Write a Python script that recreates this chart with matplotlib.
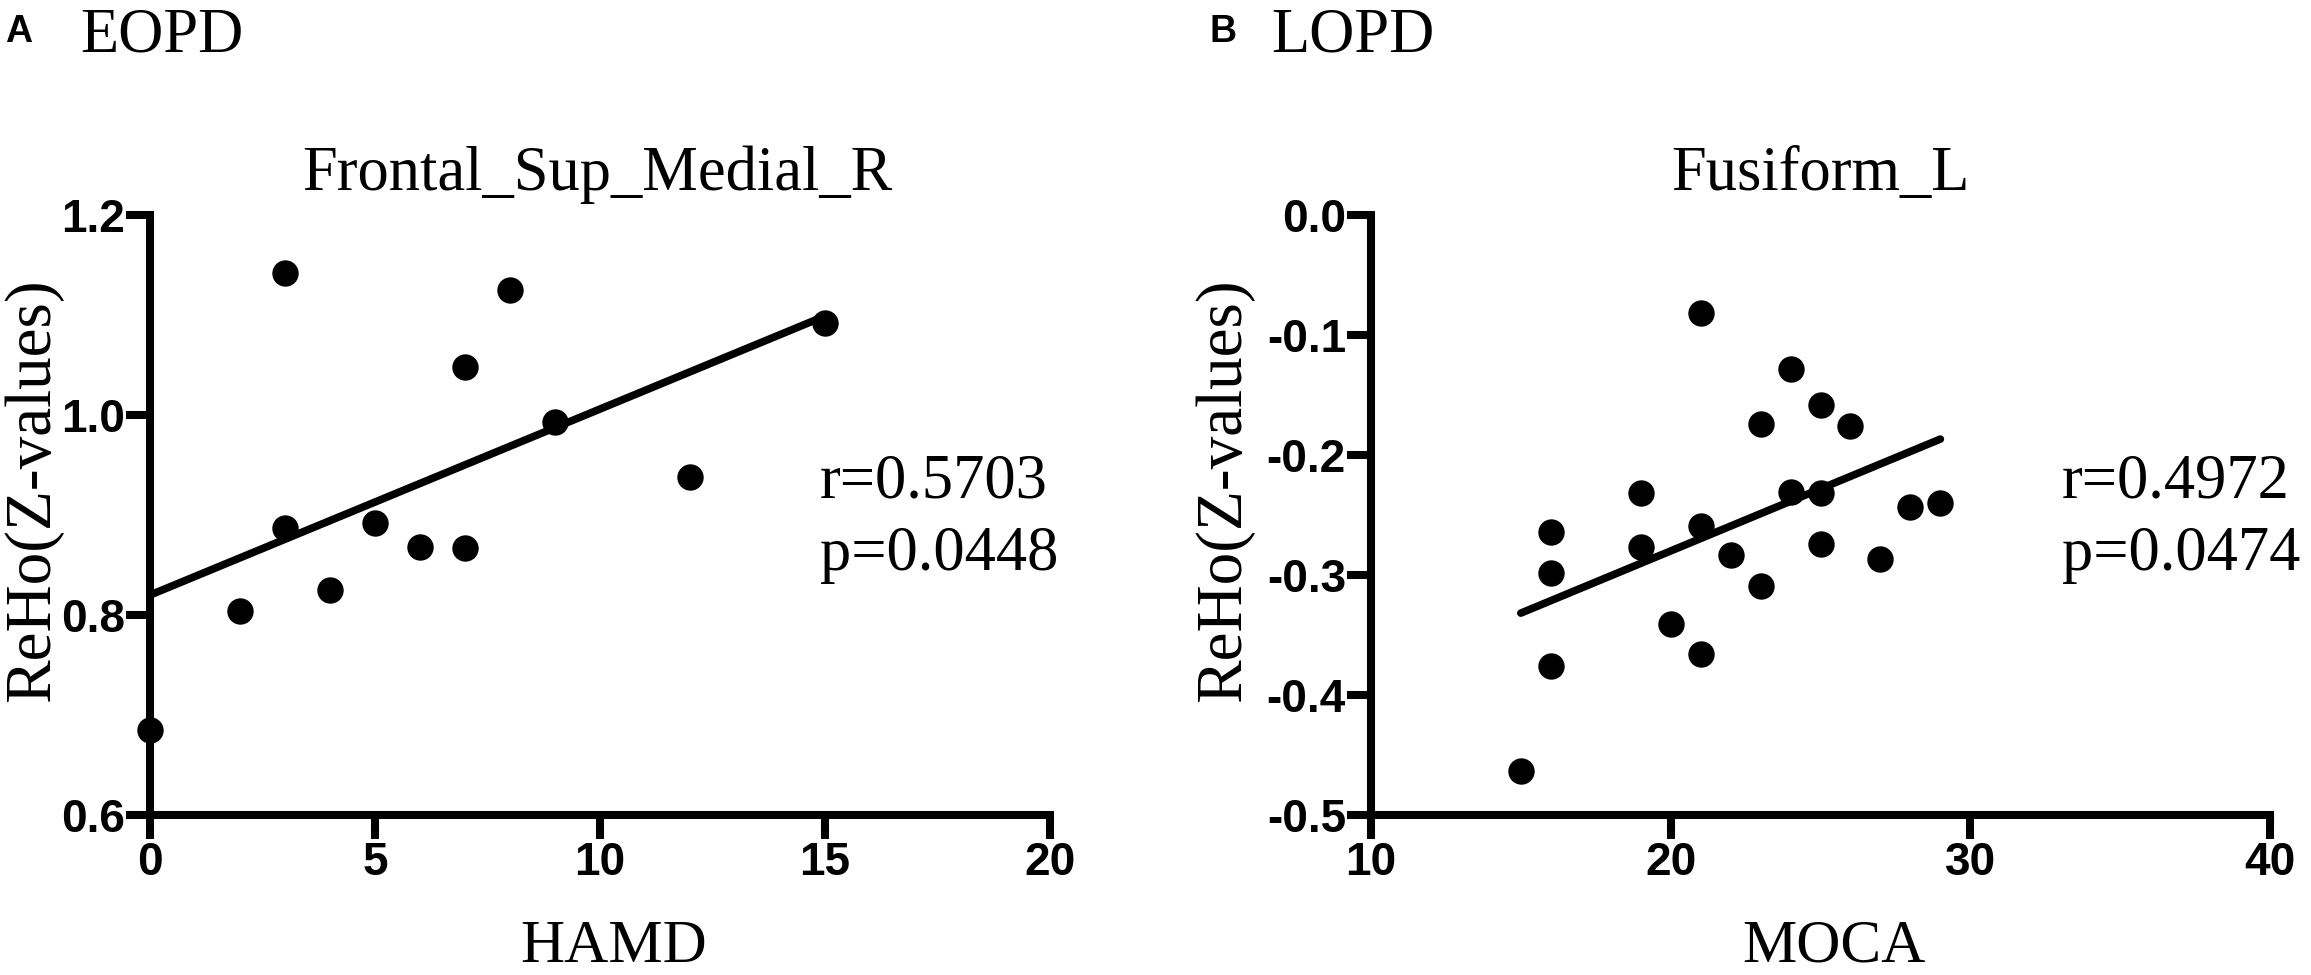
import numpy as np
import matplotlib
matplotlib.use("Agg")
import matplotlib.pyplot as plt

plt.rcParams['axes.unicode_minus'] = False

# ---- data ----
eopd_hamd = [0, 2, 3, 3, 4, 5, 6, 7, 7, 8, 9, 12, 15]
eopd_reho = [0.685, 0.804, 1.142, 0.887, 0.825, 0.892, 0.868, 0.867, 1.048, 1.125, 0.993, 0.938, 1.092]

lopd_moca = [15, 16, 16, 16, 19, 19, 20, 21, 21, 21, 22, 23, 23, 24, 24, 25, 25, 25, 26, 27, 28, 29]
lopd_reho = [-0.463, -0.264, -0.298, -0.376, -0.232, -0.277, -0.341, -0.082, -0.259, -0.366,
             -0.283, -0.174, -0.309, -0.128, -0.231, -0.158, -0.232, -0.274, -0.176, -0.287,
             -0.243, -0.240]

left_xticks = [0, 5, 10, 15, 20]
left_yticks = [0.6, 0.8, 1.0, 1.2]
right_xticks = [10, 20, 30, 40]
right_yticks = [-0.5, -0.4, -0.3, -0.2, -0.1, 0.0]

left_title = "Frontal_Sup_Medial_R"
right_title = "Fusiform_L"
left_stats = ["r=0.5703", "p=0.0448"]
right_stats = ["r=0.4972", "p=0.0474"]

W, H = 2311, 975
fig = plt.figure(figsize=(W / 100, H / 100), dpi=100)

SERIF = ['Liberation Serif', 'DejaVu Serif']
SANS = ['Liberation Sans', 'DejaVu Sans']


def fx(x):
    return x / W


def fy(y):
    return 1 - y / H


def style_axes(ax, xlim, ylim, xticks, yticks, yfmt):
    ax.set_xlim(*xlim)
    ax.set_ylim(*ylim)
    for s in ['top', 'right']:
        ax.spines[s].set_visible(False)
    for s in ['left', 'bottom']:
        ax.spines[s].set_linewidth(5.8)
        ax.spines[s].set_capstyle('projecting')
    ax.set_xticks(xticks)
    ax.set_yticks(yticks)
    ax.set_xticklabels([str(t) for t in xticks])
    ax.set_yticklabels([yfmt.format(t) for t in yticks])
    ax.tick_params(axis='both', direction='out', length=17, width=5.8, color='black')
    ax.tick_params(axis='x', pad=2)
    ax.tick_params(axis='y', pad=1)
    for lab in ax.get_xticklabels() + ax.get_yticklabels():
        lab.set_fontfamily(SANS)
        lab.set_fontweight('bold')
        lab.set_fontsize(33)


def draw_panel(ax, x, y):
    ax.scatter(x, y, s=19 ** 2, color='black', zorder=3, clip_on=False, linewidths=0)
    slope, intercept = np.polyfit(x, y, 1)
    xs = np.array([min(x), max(x)])
    ax.plot(xs, slope * xs + intercept, color='black', lw=5.5, solid_capstyle='round', zorder=2)


# Left panel
axL = fig.add_axes([fx(150), fy(815), 900 / W, 600 / H])
draw_panel(axL, eopd_hamd, eopd_reho)
style_axes(axL, (0, 20), (0.6, 1.2), left_xticks, left_yticks, "{:.1f}")

# Right panel
axR = fig.add_axes([fx(1371), fy(815), 899 / W, 600 / H])
draw_panel(axR, lopd_moca, lopd_reho)
style_axes(axR, (10, 40), (-0.5, 0.0), right_xticks, right_yticks, "{:.1f}")

# Titles
fig.text(fx(597), fy(190), left_title, family=SERIF, fontsize=45, ha='center', va='baseline')
fig.text(fx(1820), fy(190), right_title, family=SERIF, fontsize=45, ha='center', va='baseline')

# x labels
fig.text(fx(614), fy(962), "HAMD", family=SERIF, fontsize=44, ha='center', va='baseline')
fig.text(fx(1834), fy(962), "MOCA", family=SERIF, fontsize=44, ha='center', va='baseline')

# y labels
fig.text(fx(33), fy(490), "ReHo(Z-values)", family=SERIF, fontsize=47, ha='center', va='center',
         rotation=90)
fig.text(fx(1224), fy(490), "ReHo(Z-values)", family=SERIF, fontsize=47, ha='center', va='center',
         rotation=90)

# stats text
for i, t in enumerate(left_stats):
    fig.text(fx(820), fy(497 + 73 * i), t, family=SERIF, fontsize=45, ha='left', va='baseline')
for i, t in enumerate(right_stats):
    fig.text(fx(2062), fy(497 + 73 * i), t, family=SERIF, fontsize=45, ha='left', va='baseline')

# panel labels
fig.text(fx(5), fy(42), "A", family=SANS, fontweight='bold', fontsize=27, ha='left', va='baseline')
fig.text(fx(80), fy(52), "EOPD", family=SERIF, fontsize=45, ha='left', va='baseline')
fig.text(fx(1209), fy(42), "B", family=SANS, fontweight='bold', fontsize=27, ha='left', va='baseline')
fig.text(fx(1271), fy(52), "LOPD", family=SERIF, fontsize=45, ha='left', va='baseline')

fig.savefig("out.png", dpi=100, facecolor='white')
